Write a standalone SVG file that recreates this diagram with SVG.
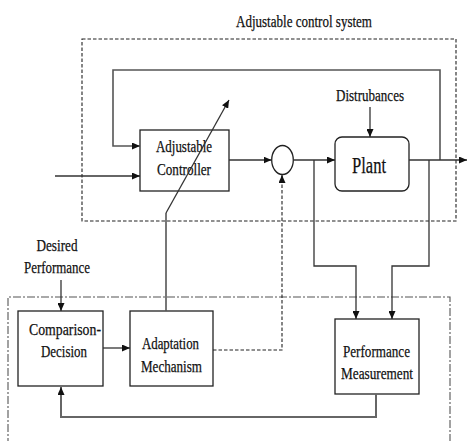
<svg xmlns="http://www.w3.org/2000/svg" width="467" height="441" viewBox="0 0 467 441">
<style>
  text { font-family: "Liberation Serif", "Times New Roman", serif; fill: #111; stroke: #111; stroke-width: 0.25; }
  .t { font-size: 17px; }
  .big { font-size: 24px; }
  .box { fill: #fff; stroke: #222; stroke-width: 1.3; }
  .ln { fill: none; stroke: #333; stroke-width: 1.3; }
  .gl { fill: none; stroke: #555; stroke-width: 1.6; }
  .fb { fill: none; stroke: #666; stroke-width: 2; }
  .dash { fill: none; stroke: #222; stroke-width: 1.1; stroke-dasharray: 3.5 2; }
  .dd { fill: none; stroke: #555; stroke-width: 1.1; stroke-dasharray: 8 2 2 2; }
</style>
<defs>
  <marker id="ah" markerWidth="8" markerHeight="7" refX="8" refY="3.5" orient="auto" markerUnits="userSpaceOnUse">
    <path d="M0,0 L8,3.5 L0,7 Z" fill="#111"/>
  </marker>
</defs>

<g id="frames">
  <rect class="dash" x="82" y="39" width="374" height="182"/>
  <path class="dd" d="M8,460 L8,297 L450,297 L450,460"/>
</g>

<g id="controller">
  <rect class="box" x="140" y="130" width="89" height="61"/>
  <text class="t" x="184" y="152" text-anchor="middle" textLength="56" lengthAdjust="spacingAndGlyphs">Adjustable</text>
  <text class="t" x="184" y="175" text-anchor="middle" textLength="54" lengthAdjust="spacingAndGlyphs">Controller</text>
</g>

<g id="sum">
  <ellipse cx="282.5" cy="160" rx="10.8" ry="14.5" fill="#fff" stroke="#222" stroke-width="1.3"/>
</g>

<g id="plant">
  <rect class="box" x="335" y="137" width="74" height="54" rx="7" ry="7"/>
  <text class="big" x="369" y="173" text-anchor="middle" textLength="34" lengthAdjust="spacingAndGlyphs">Plant</text>
</g>

<g id="disturbances">
  <text class="t" x="370" y="101" text-anchor="middle" textLength="68" lengthAdjust="spacingAndGlyphs">Distrubances</text>
</g>

<g id="title">
  <text class="t" x="236" y="27" textLength="136" lengthAdjust="spacingAndGlyphs">Adjustable control system</text>
</g>

<g id="desired">
  <text class="t" x="57" y="251" text-anchor="middle" textLength="41" lengthAdjust="spacingAndGlyphs">Desired</text>
  <text class="t" x="57" y="273" text-anchor="middle" textLength="66" lengthAdjust="spacingAndGlyphs">Performance</text>
</g>

<g id="comparison">
  <rect class="box" x="18" y="311" width="85" height="75"/>
  <text class="t" x="65" y="335" text-anchor="middle" textLength="72" lengthAdjust="spacingAndGlyphs">Comparison-</text>
  <text class="t" x="64" y="357" text-anchor="middle" textLength="46" lengthAdjust="spacingAndGlyphs">Decision</text>
</g>

<g id="adaptation">
  <rect class="box" x="130" y="311" width="83" height="75"/>
  <text class="t" x="170.5" y="349" text-anchor="middle" textLength="57" lengthAdjust="spacingAndGlyphs">Adaptation</text>
  <text class="t" x="171.5" y="372" text-anchor="middle" textLength="61" lengthAdjust="spacingAndGlyphs">Mechanism</text>
</g>

<g id="performance">
  <rect class="box" x="335" y="319" width="84" height="75"/>
  <text class="t" x="376.5" y="357" text-anchor="middle" textLength="67" lengthAdjust="spacingAndGlyphs">Performance</text>
  <text class="t" x="377" y="379" text-anchor="middle" textLength="72" lengthAdjust="spacingAndGlyphs">Measurement</text>
</g>

<g id="connectors">
  <path class="ln" d="M55,176 L140,176" marker-end="url(#ah)"/>
  <path class="gl" d="M440,160 L440,70 L113,70 L113,146 L140,146" marker-end="url(#ah)"/>
  <path class="ln" d="M229,160 L271.5,160" marker-end="url(#ah)"/>
  <path class="ln" d="M293,160 L335,160" marker-end="url(#ah)"/>
  <path class="ln" d="M409,160 L467,160" marker-end="url(#ah)"/>
  <path class="ln" d="M370,107 L370,137" marker-end="url(#ah)"/>
  <path class="ln" d="M314,160 L314,266 L356,266 L356,319" marker-end="url(#ah)"/>
  <path class="ln" d="M429,160 L429,266 L392,266 L392,319" marker-end="url(#ah)"/>
  <path class="fb" d="M376,394 L376,417 L61,417 L61,387" marker-end="url(#ah)"/>
  <path class="ln" d="M61,280 L61,311" marker-end="url(#ah)"/>
  <path class="ln" d="M103,348 L130,348" marker-end="url(#ah)"/>
  <path class="gl" d="M166,311 L166,213"/>
  <path class="ln" d="M166,213 L229,100" marker-end="url(#ah)"/>
  <path class="dash" d="M213,350 L282,350 L282,176"/>
  <path class="ln" d="M282,182 L282,175" marker-end="url(#ah)"/>
</g>
</svg>
